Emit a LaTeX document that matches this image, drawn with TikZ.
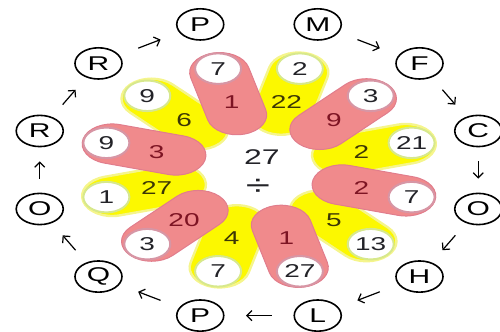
\documentclass[tikz,border=0pt]{standalone}
\usepackage{fontspec}
\setmainfont{Liberation Sans}
\usetikzlibrary{arrows.meta,shapes.misc,calc}
\definecolor{petalpink}{RGB}{240,138,140}
\definecolor{pinkedge}{RGB}{225,125,140}
\definecolor{pinkring}{RGB}{215,150,165}
\definecolor{pinktext}{RGB}{125,20,35}
\definecolor{petalyellow}{RGB}{252,248,0}
\definecolor{yellowedge}{RGB}{245,245,140}
\definecolor{yellowring}{RGB}{215,232,140}
\definecolor{yellowtext}{RGB}{60,55,5}
\definecolor{numtext}{RGB}{35,35,40}

\begin{document}
\begin{tikzpicture}[x=0.5pt, y=0.5pt, >={Straight Barb[length=2.5pt,width=5pt]},
 petal/.style={rounded rectangle, minimum width=63pt, minimum height=30pt, inner sep=0pt},
 pinkpetal/.style={petal, fill=petalpink, draw=pinkedge, line width=0.5pt},
 yellowpetal/.style={petal, fill=petalyellow, draw=yellowedge, line width=1.2pt},
 disc/.style={circle, fill=white, minimum size=23pt, inner sep=0pt, line width=1pt, text=numtext, font=\fontsize{14}{14}\selectfont},
 innum/.style={inner sep=0pt, font=\fontsize{14}{14}\selectfont},
 letter/.style={circle, draw, line width=0.8pt, minimum size=23.5pt, inner sep=0pt, font=\fontsize{15}{15}\selectfont},
 cwarrow/.style={->, line width=0.6pt}]
\begin{scope}[yscale=0.664, transform shape]
\useasboundingbox (-259,-244) rectangle (241,256);
% yellow petals first, the pink ones lie over them
\foreach \a/\inum/\onum/\k in {75/22/2/2, 15/2/21/4, -45/5/13/6, -105/4/7/8, 195/27/1/10, 135/6/9/12}{
  \node[yellowpetal, rotate=\a] (petal-\k) at (\a:119) {};
  \node[disc, draw=yellowring] (out-\k) at (\a:158) {\onum};
  \node[innum, text=yellowtext] (in-\k) at (\a:106) {\inum};
}
\foreach \a/\inum/\onum/\k in {105/1/7/1, 45/9/3/3, -15/2/7/5, -75/1/27/7, -135/20/3/9, 165/3/9/11}{
  \node[pinkpetal, rotate=\a] (petal-\k) at (\a:119) {};
  \node[disc, draw=pinkring] (out-\k) at (\a:158) {\onum};
  \node[innum, text=pinktext] (in-\k) at (\a:106) {\inum};
}
% centre
\node[font=\fontsize{16}{16}\selectfont, text=numtext] (total) at (3,20) {27};
\node[font=\fontsize{22}{22}\selectfont, text=numtext] (divide) at (-1,-26) {÷};
% letters round the ring
\foreach \a/\ltr [count=\k] in {105/P, 75/M, 45/F, 15/C, -15/O, -45/H, -75/L, -105/P, -135/Q, -165/O, 165/R, 135/R}
  \node[letter] (let-\k) at (\a:227) {\ltr};
% arrows go clockwise, none between P and M at the top
\foreach \k in {2,...,12}{
  \pgfmathtruncatemacro{\n}{mod(\k,12)+1}
  \draw[cwarrow] ($(let-\k)!0.39!(let-\n)$) -- ($(let-\k)!0.61!(let-\n)$);
}
\end{scope}
\end{tikzpicture}
\end{document}
